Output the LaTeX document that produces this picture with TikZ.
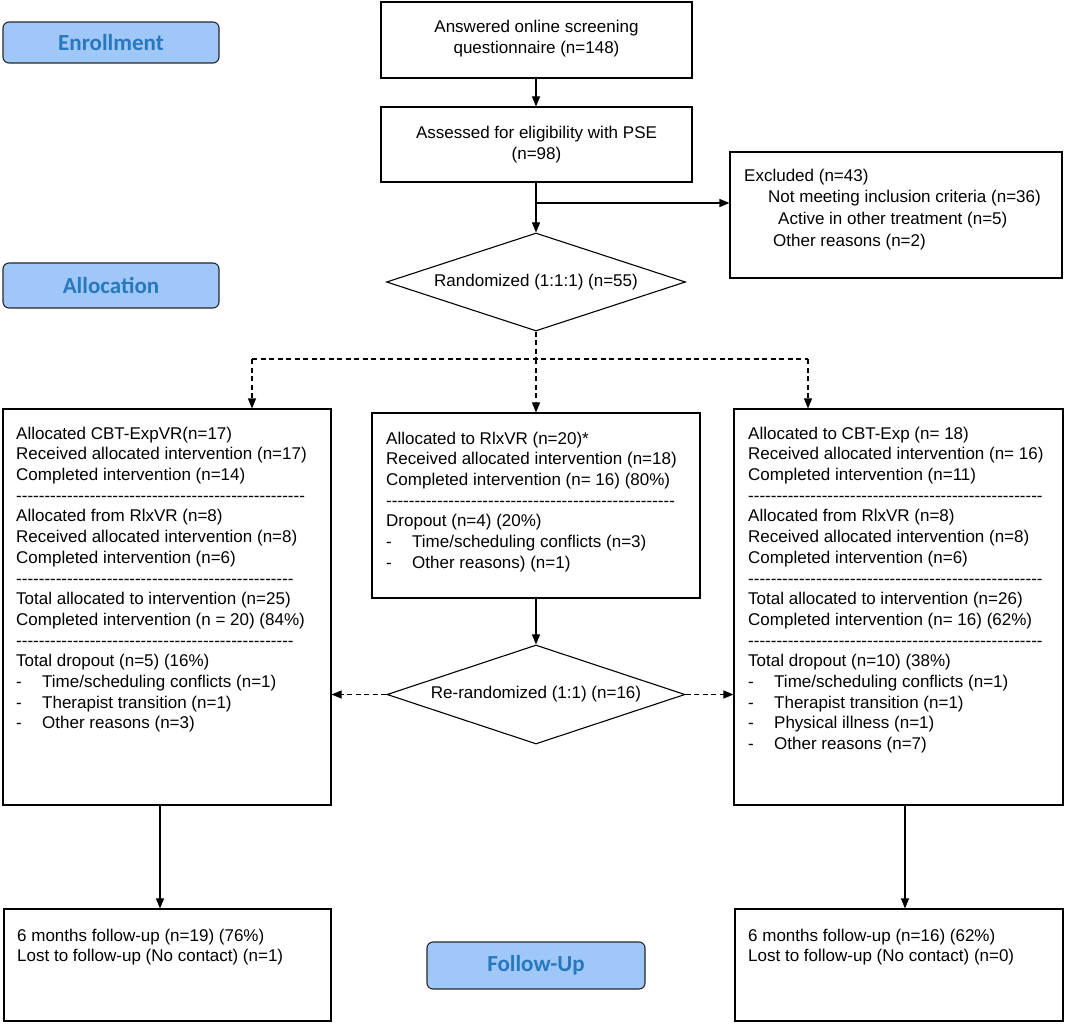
\documentclass[tikz,border=0pt]{standalone}
\usepackage{fontspec}
\setmainfont{Liberation Sans}
\newfontfamily\calib{Carlito}
\usetikzlibrary{arrows.meta,shapes.geometric,calc}
\definecolor{lblfill}{HTML}{9FC7F8}
\definecolor{lbltext}{HTML}{2878BD}
\newcommand\hy[1]{\foreach\i in {1,...,#1}{-\kern0pt}}
\newcommand\itm[1]{\makebox[26pt][l]{-}#1}
\begin{document}
\begin{tikzpicture}[x=1pt,y=-1pt,
  box/.style={draw=black, line width=1.1pt, rectangle, inner sep=0pt},
  dia/.style={draw=black, line width=1.1pt, diamond, aspect=3, inner sep=0pt,
    font=\fontsize{17}{20.7}\selectfont},
  lbl/.style={draw=black!85, line width=1.1pt, fill=lblfill, rounded corners=6pt,
    minimum width=216pt, inner sep=0pt, font=\calib\bfseries\fontsize{23}{26}\selectfont,
    text=lbltext},
  txt/.style={anchor=north west, inner sep=0pt, align=left,
    font=\fontsize{17}{20.7}\selectfont},
  ctxt/.style={anchor=north, inner sep=0pt, align=center,
    font=\fontsize{17}{21}\selectfont},
  arr/.style={line width=1.1pt, -{Triangle[length=10pt,width=8pt]}},
  darr/.style={line width=1.1pt, dash pattern=on 5pt off 3.5pt, -{Triangle[length=10pt,width=8pt]}},
  dln/.style={line width=1.1pt, dash pattern=on 5pt off 3.5pt},
  ln/.style={line width=1.1pt}
]
\useasboundingbox (0,0) rectangle (1065,1024);

% phase labels
\node[lbl, minimum height=41pt] (enr) at (111,42.5) {Enrollment};
\node[lbl, minimum height=45pt] (alc) at (111,285.5) {Allocation};
\node[lbl, minimum height=47pt, minimum width=218pt] (fup) at (536,965.5) {Follow-Up};

% top boxes
\node[box, minimum width=311pt, minimum height=76pt] (q1) at (536.5,40) {};
\node[ctxt] (q1t) at (536.5,17.3) {\strut Answered online screening\\questionnaire (n=148)};
\node[box, minimum width=311pt, minimum height=75pt] (q2) at (536.5,144.5) {};
\node[ctxt] (q2t) at (536.5,123.3) {\strut Assessed for eligibility with PSE\\(n=98)};

% excluded
\node[box, minimum width=332pt, minimum height=126pt] (ex) at (896,215) {};
\node[txt, font=\fontsize{17}{21.6}\selectfont] (ext) at (744,165.9)
 {\strut Excluded (n=43)\\
  \hspace*{24pt}Not meeting inclusion criteria (n=36)\\
  \hspace*{34pt}Active in other treatment (n=5)\\
  \hspace*{29pt}Other reasons (n=2)};

% randomized
\node[dia, minimum width=299pt, minimum height=98pt] (rand) at (536,282) {Randomized (1:1:1) (n=55)};

% three arms
\node[box, minimum width=328pt, minimum height=396pt] (L) at (167,607) {};
\node[box, minimum width=328pt, minimum height=185pt] (M) at (536,505.5) {};
\node[box, minimum width=329pt, minimum height=396pt] (R) at (898.5,607) {};

\node[txt] (Lt) at (16,424.5)
 {\strut Allocated CBT-ExpVR(n=17)\\
  Received allocated intervention (n=17)\\
  Completed intervention (n=14)\\
  \hy{51}\\
  Allocated from RlxVR (n=8)\\
  Received allocated intervention (n=8)\\
  Completed intervention (n=6)\\
  \hy{49}\\
  Total allocated to intervention (n=25)\\
  Completed intervention (n = 20) (84\%)\\
  \hy{49}\\
  Total dropout (n=5) (16\%)\\
  \itm{Time/scheduling conflicts (n=1)}\\
  \itm{Therapist transition (n=1)}\\
  \itm{Other reasons (n=3)}};

\node[txt] (Mt) at (386,429.5)
 {\strut Allocated to RlxVR (n=20)*\\
  Received allocated intervention (n=18)\\
  Completed intervention (n= 16) (80\%)\\
  \hy{51}\\
  Dropout (n=4) (20\%)\\
  \itm{Time/scheduling conflicts (n=3)}\\
  \itm{Other reasons) (n=1)}};

\node[txt] (Rt) at (748,424.5)
 {\strut Allocated to CBT-Exp (n= 18)\\
  Received allocated intervention (n= 16)\\
  Completed intervention (n=11)\\
  \hy{52}\\
  Allocated from RlxVR (n=8)\\
  Received allocated intervention (n=8)\\
  Completed intervention (n=6)\\
  \hy{52}\\
  Total allocated to intervention (n=26)\\
  Completed intervention (n= 16) (62\%)\\
  \hy{52}\\
  Total dropout (n=10) (38\%)\\
  \itm{Time/scheduling conflicts (n=1)}\\
  \itm{Therapist transition (n=1)}\\
  \itm{Physical illness (n=1)}\\
  \itm{Other reasons (n=7)}};

% re-randomized
\node[dia, minimum width=298pt, minimum height=99pt] (rr) at (536,694.5) {Re-randomized (1:1) (n=16)};

% follow-up boxes
\node[box, minimum width=327pt, minimum height=112pt] (BL) at (167.5,965) {};
\node[box, minimum width=328pt, minimum height=112pt] (BR) at (899,965) {};
\node[txt, font=\fontsize{17}{20}\selectfont] (BLt) at (17,927)
 {\strut 6 months follow-up (n=19) (76\%)\\Lost to follow-up (No contact) (n=1)};
\node[txt, font=\fontsize{17}{20}\selectfont] (BRt) at (748,927)
 {\strut 6 months follow-up (n=16) (62\%)\\Lost to follow-up (No contact) (n=0)};

% connectors
\coordinate (br) at (536,203);
\coordinate (dm) at (536,359);
\coordinate (dl) at (252,359);
\coordinate (dr) at (808,359);
\coordinate (lx) at (160,0);
\coordinate (rx) at (905,0);

\draw[arr] (q1.south -| br) -- (q2.north -| br);
\draw[arr] (q2.south -| br) -- (rand.north);
\draw[arr] (br) -- (br -| ex.west);
\draw[dln] (rand.south) -- (dm);
\draw[dln] (dl) -- (dr);
\draw[darr] (dl) -- (dl |- L.north);
\draw[darr] (dm) -- (M.north);
\draw[darr] (dr) -- (dr |- R.north);
\draw[arr] (M.south) -- (rr.north);
\draw[darr] (rr.west) -- (rr.west -| L.east);
\draw[darr] (rr.east) -- (rr.east -| R.west);
\draw[arr] (L.south -| lx) -- (BL.north -| lx);
\draw[arr] (R.south -| rx) -- (BR.north -| rx);
\end{tikzpicture}
\end{document}
